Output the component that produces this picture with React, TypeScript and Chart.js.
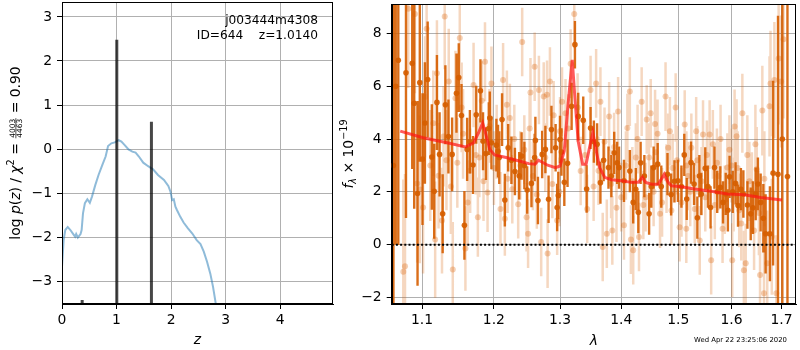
import React, { useEffect, useRef } from 'react';
import { Chart, registerables } from 'chart.js';

Chart.register(...registerables);

const FONT = '"DejaVu Sans", sans-serif';

// ---------- left panel: log p(z) ----------
const objName = 'j003444m4308';
const objId = 644;
const zBest = '1.0140';
const chi2Num = '4003';
const chi2Den = '4463';
const chi2Ratio = '0.90';

const zGrid = [0, 0.03, 0.06, 0.105, 0.154, 0.2, 0.24, 0.26, 0.29, 0.34, 0.36, 0.385, 0.42, 0.465, 0.51, 0.55, 0.61, 0.67, 0.74, 0.8, 0.845, 0.905, 0.967, 1.04, 1.09, 1.15, 1.22, 1.29, 1.35, 1.41, 1.49, 1.58, 1.67, 1.76, 1.87, 1.95, 1.99, 2.02, 2.05, 2.08, 2.11, 2.17, 2.23, 2.31, 2.39, 2.47, 2.54, 2.6, 2.66, 2.72, 2.77, 2.82, 2.85];
const logPz = [-2.67, -2.07, -1.84, -1.77, -1.84, -1.92, -1.99, -1.93, -2.01, -1.93, -1.84, -1.46, -1.23, -1.14, -1.22, -1.08, -0.82, -0.59, -0.36, -0.17, 0.07, 0.13, 0.15, 0.2, 0.17, 0.09, -0.01, -0.06, -0.08, -0.17, -0.31, -0.39, -0.46, -0.59, -0.7, -0.84, -0.97, -1.16, -1.14, -1.31, -1.39, -1.54, -1.67, -1.8, -1.92, -2.07, -2.16, -2.33, -2.56, -2.83, -3.13, -3.51, -3.9];

const peakZ = [0.37, 1.005, 1.64];
const peakLogP = [-3.43, 2.48, 0.62];

const zTicks = [0, 1, 2, 3, 4];
const logPTicks = [-3, -2, -1, 0, 1, 2, 3];

// ---------- right panel: spectrum ----------
const darkLam = [1.0625, 1.0655, 1.0688, 1.0788, 1.087, 1.0896, 1.094, 1.097, 1.1006, 1.1038, 1.1075, 1.1131, 1.1163, 1.12, 1.1236, 1.1278, 1.1315, 1.1357, 1.1408, 1.1468, 1.15, 1.1538, 1.1579, 1.1617, 1.1656, 1.17, 1.1746, 1.1806, 1.1843, 1.1885, 1.1926, 1.194, 1.1964, 1.2036, 1.206, 1.2078, 1.2119, 1.216, 1.2209, 1.2257, 1.2309, 1.2373, 1.2409, 1.2451, 1.2493, 1.2558, 1.2607, 1.2618, 1.2657, 1.2722, 1.2772, 1.2821, 1.2866, 1.2931, 1.2955, 1.2973, 1.3, 1.3023, 1.3068, 1.3119, 1.3184, 1.3237, 1.329, 1.3371, 1.3426, 1.349, 1.3544, 1.3597, 1.3652, 1.3705, 1.3786, 1.3834, 1.3882, 1.3931, 1.3963, 1.4047, 1.4147, 1.4205, 1.425, 1.4293, 1.4333, 1.4398, 1.4481, 1.452, 1.4561, 1.4632, 1.4696, 1.4807, 1.4872, 1.4933, 1.4995, 1.5059, 1.5111, 1.5156, 1.5235, 1.5291, 1.5352, 1.539, 1.5426, 1.55, 1.555, 1.56, 1.5674, 1.5726, 1.5785, 1.5837, 1.5889, 1.593, 1.5963, 1.6024, 1.6079, 1.6127, 1.6183, 1.6232, 1.6312, 1.6377, 1.642, 1.6476, 1.652, 1.6575, 1.6629, 1.6675, 1.6762, 1.6827, 1.6927, 1.7016, 1.7122];
const darkFlux = [3.0, 6.0, 6.99, 6.51, 6.87, 5.36, 1.94, 6.14, 3.24, 4.61, 6.26, 3.32, 2.02, 5.39, 3.42, 1.17, 5.3, 4.1, 3.42, 5.74, 6.33, 4.89, 0.73, 3.61, 3.9, 3.02, 4.92, 5.83, 3.92, 3.45, 4.4, 4.8, 3.86, 3.77, 3.54, 3.3, 4.74, 1.69, 3.67, 3.2, 2.77, 2.61, 3.36, 3.0, 2.07, 2.32, 3.3, 3.95, 1.67, 3.42, 3.61, 1.72, 4.36, 3.67, 1.41, 1.86, 3.98, 3.51, 2.36, 3.08, 5.24, 7.58, 4.86, 4.71, 2.11, 4.42, 3.9, 3.8, 2.35, 3.2, 2.92, 2.6, 3.48, 3.1, 2.92, 2.42, 2.79, 1.6, 2.1, 1.23, 3.1, 2.6, 1.17, 2.2, 2.92, 3.05, 2.2, 2.67, 1.9, 2.4, 2.42, 2.2, 3.4, 1.73, 3.11, 2.3, 1.02, 2.6, 1.92, 2.89, 2.2, 1.41, 2.92, 2.0, 2.17, 1.6, 1.92, 1.3, 2.57, 2.0, 2.32, 1.48, 2.1, 1.92, 1.5, 1.17, 1.4, 1.92, 2.3, 1.6, 1.0, 0.41, 0.41, 2.71, 2.67, 4.0, 2.58];
const darkErr = [9, 6, 7, 5.5, 4, 4, 3.5, 3, 2.5, 2.3, 2.2, 2.0, 1.8, 1.8, 1.6, 1.5, 1.5, 1.4, 1.4, 1.5, 1.3, 1.2, 1.3, 1.2, 1.2, 1.1, 1.1, 1.2, 1.1, 1.0, 1.0, 1.0, 1.0, 1.0, 1.0, 1.0, 1.0, 1.0, 0.9, 0.9, 0.9, 0.9, 0.9, 0.9, 0.9, 0.9, 0.9, 0.9, 0.9, 0.9, 0.9, 0.9, 0.9, 0.9, 0.9, 0.9, 0.9, 0.9, 0.9, 0.9, 0.9, 0.9, 0.9, 0.9, 0.9, 0.8, 0.8, 0.8, 0.8, 0.8, 0.8, 0.8, 0.8, 0.8, 0.8, 0.8, 0.8, 0.8, 0.8, 0.8, 0.8, 0.8, 0.8, 0.8, 0.8, 0.8, 0.8, 0.8, 0.8, 0.8, 0.8, 0.8, 0.8, 0.8, 0.8, 0.8, 0.8, 0.8, 0.8, 0.8, 0.8, 0.8, 0.8, 0.8, 0.8, 0.8, 0.8, 0.8, 0.8, 0.8, 0.8, 0.8, 0.8, 0.9, 0.9, 1.0, 1.0, 1.0, 1.0, 1.1, 1.3, 1.5, 1.8, 3.5, 6, 12, 10];

const lightLam = [1.0753, 1.0775, 1.0818, 1.0905, 1.0935, 1.097, 1.1014, 1.104, 1.1061, 1.111, 1.115, 1.1176, 1.12, 1.1222, 1.1269, 1.129, 1.1306, 1.133, 1.1361, 1.139, 1.1417, 1.1454, 1.148, 1.1514, 1.154, 1.156, 1.1593, 1.1625, 1.166, 1.1708, 1.174, 1.1769, 1.179, 1.1825, 1.185, 1.1871, 1.1908, 1.1935, 1.1964, 1.2, 1.204, 1.2096, 1.2134, 1.216, 1.219, 1.22, 1.2234, 1.227, 1.23, 1.2358, 1.239, 1.2418, 1.245, 1.2484, 1.2507, 1.253, 1.2543, 1.258, 1.2607, 1.264, 1.2672, 1.2707, 1.2746, 1.277, 1.2797, 1.2806, 1.2842, 1.288, 1.29, 1.2955, 1.299, 1.3, 1.3032, 1.3087, 1.313, 1.3168, 1.3226, 1.328, 1.3329, 1.34, 1.3435, 1.349, 1.354, 1.3581, 1.362, 1.3652, 1.369, 1.372, 1.3758, 1.3797, 1.383, 1.385, 1.388, 1.392, 1.3947, 1.4, 1.4047, 1.408, 1.4105, 1.4147, 1.4165, 1.419, 1.4205, 1.425, 1.428, 1.4305, 1.4351, 1.438, 1.442, 1.4439, 1.448, 1.4509, 1.456, 1.4586, 1.46, 1.463, 1.4674, 1.471, 1.4772, 1.479, 1.4819, 1.485, 1.4877, 1.49, 1.4954, 1.498, 1.5026, 1.506, 1.5119, 1.5148, 1.515, 1.518, 1.522, 1.5241, 1.5304, 1.533, 1.535, 1.5397, 1.543, 1.5458, 1.55, 1.553, 1.5582, 1.5611, 1.5643, 1.568, 1.572, 1.575, 1.579, 1.5828, 1.587, 1.592, 1.596, 1.6, 1.6014, 1.604, 1.606, 1.6099, 1.612, 1.615, 1.619, 1.6212, 1.6242, 1.6278, 1.631, 1.635, 1.64, 1.6444, 1.647, 1.6496, 1.654, 1.6563, 1.6609, 1.6643, 1.665, 1.6708, 1.6754, 1.6774, 1.68, 1.6853, 1.6893, 1.694, 1.6992, 1.704];
const lightFlux = [-1.03, -0.82, 8.94, 8.74, 2.32, 2.09, 1.41, 5.6, 8.18, 3.0, 4.6, 0.19, 6.5, 2.61, 0.91, 4.1, 8.65, 3.2, 6.18, 2.2, -0.94, 5.55, 3.1, 7.83, 5.2, 4.2, -0.15, 1.6, 2.8, 6.05, 3.4, 1.04, 3.3, 5.45, 2.4, 6.93, 1.98, 4.5, 6.11, 2.9, 3.9, 1.35, 6.24, 0.98, 5.3, 2.5, 4.8, 2.1, 4.0, 1.53, 3.0, 7.68, 3.6, 1.04, 0.41, 4.4, 5.77, 2.6, 6.74, 1.9, 5.86, 0.1, 5.61, 3.3, 5.68, -0.34, 6.18, 2.3, 4.9, 0.91, 2.0, 4.3, 5.42, 4.98, 4.4, 6.86, 8.74, 5.2, 2.79, 3.4, 1.35, 5.86, 2.2, 6.11, 2.8, 5.42, -0.09, 3.9, 0.41, 4.86, 2.3, 0.54, 3.7, 1.4, 5.05, 1.8, 0.73, 3.0, 4.42, 5.8, 0.19, 2.4, -0.21, 3.3, 4.0, 0.29, 5.42, 1.5, 1.8, 4.74, 3.3, 4.98, 2.0, 4.57, 3.5, 4.2, 1.17, 1.6, 5.61, 2.5, 3.67, 4.3, 1.29, 2.9, 5.2, 3.2, 0.66, 1.6, 4.55, 0.6, 3.0, 2.6, 2.0, 3.67, 1.35, 4.3, 3.2, 0.16, 2.4, 4.17, 1.8, 3.4, 4.17, -0.59, 3.8, 1.5, 3.1, 2.6, 4.0, 0.6, 1.7, 2.92, 3.6, 3.0, -0.59, 1.9, 4.48, 4.11, 2.9, 1.3, 0.8, 4.98, -0.97, -0.71, 3.4, 2.4, 2.0, 0.54, 3.8, 2.86, 1.2, -1.15, 5.08, -1.84, 2.5, -0.71, 5.24, 6.11, 0.3, 6.24, -1.84, 7.05, 6.18, 7.78];
const lightErr = [3.5, 3.5, 3, 3, 3, 2.8, 2.5, 2.3, 2.5, 2.1, 2.0, 2.2, 2.0, 2.0, 2.0, 1.9, 2.0, 1.9, 2.0, 1.8, 1.8, 1.8, 1.7, 1.8, 1.7, 1.7, 1.6, 1.6, 1.6, 1.6, 1.5, 1.5, 1.5, 1.5, 1.5, 1.5, 1.5, 1.4, 1.4, 1.4, 1.4, 1.4, 1.4, 1.4, 1.3, 1.3, 1.3, 1.3, 1.3, 1.3, 1.3, 1.3, 1.3, 1.3, 1.3, 1.3, 1.3, 1.3, 1.3, 1.3, 1.3, 1.3, 1.3, 1.3, 1.3, 1.3, 1.3, 1.3, 1.3, 1.3, 1.3, 1.3, 1.3, 1.3, 1.3, 1.3, 1.3, 1.3, 1.3, 1.3, 1.3, 1.3, 1.3, 1.3, 1.3, 1.3, 1.3, 1.3, 1.3, 1.3, 1.3, 1.3, 1.3, 1.3, 1.3, 1.3, 1.3, 1.3, 1.3, 1.3, 1.3, 1.3, 1.3, 1.3, 1.3, 1.3, 1.3, 1.3, 1.3, 1.3, 1.3, 1.3, 1.3, 1.3, 1.3, 1.3, 1.3, 1.3, 1.3, 1.3, 1.3, 1.3, 1.3, 1.3, 1.3, 1.3, 1.3, 1.3, 1.3, 1.3, 1.3, 1.3, 1.3, 1.3, 1.3, 1.3, 1.3, 1.3, 1.3, 1.3, 1.3, 1.3, 1.3, 1.3, 1.3, 1.3, 1.3, 1.3, 1.3, 1.3, 1.3, 1.3, 1.3, 1.4, 1.4, 1.4, 1.4, 1.4, 1.4, 1.4, 1.4, 1.5, 1.5, 1.5, 1.5, 1.5, 1.5, 1.5, 1.5, 1.6, 1.6, 1.6, 1.7, 1.8, 1.8, 2.0, 1.9, 2.0, 2.2, 2.2, 2.2, 2.5, 2.5, 3.0, 3.0, 3.5];

const modelLam = [1.0713, 1.1014, 1.1338, 1.1593, 1.1708, 1.1778, 1.1838, 1.1884, 1.194, 1.201, 1.2179, 1.2372, 1.2517, 1.2614, 1.2662, 1.271, 1.2807, 1.2928, 1.3, 1.3067, 1.3122, 1.3194, 1.3233, 1.3289, 1.3361, 1.3417, 1.3472, 1.3528, 1.3583, 1.3639, 1.3722, 1.3833, 1.4, 1.4175, 1.4292, 1.4363, 1.4421, 1.4526, 1.4643, 1.4749, 1.4819, 1.4877, 1.5056, 1.5302, 1.5611, 1.592, 1.6245, 1.6576, 1.7007];
const modelFlux = [4.3, 4.05, 3.86, 3.7, 3.86, 4.24, 4.61, 4.18, 3.61, 3.4, 3.3, 3.17, 3.07, 3.05, 3.2, 3.14, 3.01, 2.92, 2.98, 3.55, 5.18, 7.0, 5.68, 3.92, 3.05, 3.05, 3.67, 4.24, 3.55, 2.92, 2.55, 2.46, 2.42, 2.36, 2.36, 2.55, 2.36, 2.29, 2.29, 2.67, 2.36, 2.23, 2.19, 2.11, 2.02, 1.92, 1.89, 1.79, 1.69];

const lamTicks = [1.1, 1.2, 1.3, 1.4, 1.5, 1.6, 1.7];
const fluxTicks = [-2, 0, 2, 4, 6, 8];
const timestamp = 'Wed Apr 22 23:25:06 2020';

// ---------- helpers ----------
const fmtInt = (v: number) => (v < 0 ? '\u2212' : '') + Math.abs(Math.round(v));
const fmt1 = (v: number) => v.toFixed(1);

function errSegments(lam: number[], val: number[], err: number[]) {
  const out: any[] = [];
  lam.forEach((l, i) => {
    out.push({ x: l, y: val[i] - err[i] }, { x: l, y: val[i] + err[i] }, { x: l, y: null });
  });
  return out;
}

function makeScale(type: string, min: number, max: number, ticks: number[], fmt: (v: number) => string, pos: string, size: number) {
  return {
    type,
    min,
    max,
    bounds: 'data',
    position: pos,
    afterBuildTicks: (s: any) => {
      s.ticks = ticks.map((v) => ({ value: v }));
    },
    afterFit: (s: any) => {
      if (pos === 'bottom') s.height = size;
      else s.width = size;
      s.paddingLeft = 0;
      s.paddingRight = 0;
      s.paddingTop = 0;
      s.paddingBottom = 0;
    },
    grid: { color: '#b0b0b0', lineWidth: 1, tickLength: 5, tickColor: '#000', tickWidth: 1, drawTicks: true },
    border: { display: true, color: '#000', width: 1 },
    ticks: {
      color: '#000',
      font: { family: FONT, size: 13.9 },
      padding: pos === 'bottom' ? 3 : 5,
      maxRotation: 0,
      minRotation: 0,
      autoSkip: false,
      callback: (v: any) => fmt(Number(v)),
    },
  };
}

type Part = { text?: string; frac?: [string, string]; font: string; dy?: number; numY?: number; barY?: number; denY?: number };

function drawRotated(ctx: CanvasRenderingContext2D, x: number, y: number, parts: Part[]) {
  ctx.save();
  ctx.translate(x, y);
  ctx.rotate(-Math.PI / 2);
  ctx.fillStyle = '#000';
  ctx.textBaseline = 'alphabetic';
  ctx.textAlign = 'left';
  const widths = parts.map((p) => {
    ctx.font = p.font;
    if (p.frac) return Math.max(ctx.measureText(p.frac[0]).width, ctx.measureText(p.frac[1]).width) + 2;
    return ctx.measureText(p.text || '').width;
  });
  const total = widths.reduce((a, b) => a + b, 0);
  let cx = -total / 2;
  parts.forEach((p, i) => {
    ctx.font = p.font;
    const w = widths[i];
    if (p.frac) {
      ctx.textAlign = 'center';
      ctx.fillText(p.frac[0], cx + w / 2, p.numY || 0);
      ctx.fillText(p.frac[1], cx + w / 2, p.denY || 0);
      ctx.fillRect(cx + 0.5, (p.barY || 0) - 0.35, w - 1, 0.7);
      ctx.textAlign = 'left';
    } else {
      ctx.fillText(p.text || '', cx, p.dy || 0);
    }
    cx += w;
  });
  ctx.restore();
}

const framePlugin = {
  id: 'frame',
  afterDatasetsDraw(chart: any) {
    const { ctx, chartArea: a } = chart;
    ctx.save();
    ctx.strokeStyle = '#000';
    ctx.lineWidth = 1;
    const x0 = Math.round(a.left) + 0.5;
    const y0 = Math.round(a.top) + 0.5;
    const x1 = Math.round(a.right) - 0.5;
    const y1 = Math.round(a.bottom) - 0.5;
    ctx.strokeRect(x0, y0, x1 - x0, y1 - y0);
    ctx.restore();
  },
};

const leftTextPlugin = {
  id: 'leftText',
  afterDraw(chart: any) {
    const { ctx, chartArea: a } = chart;
    ctx.save();
    ctx.fillStyle = '#000';
    ctx.font = `12.2px ${FONT}`;
    ctx.textAlign = 'right';
    ctx.textBaseline = 'alphabetic';
    ctx.fillText(objName, a.right - 15, 23.5);
    ctx.fillText(`ID=${objId}    z=${zBest}`, a.right - 15, 38.5);
    ctx.font = `italic 13.9px ${FONT}`;
    ctx.textAlign = 'center';
    ctx.fillText('z', (a.left + a.right) / 2, 344);
    ctx.restore();
    const n = `13.9px ${FONT}`;
    const it = `italic 13.9px ${FONT}`;
    drawRotated(ctx, 19.5, (a.top + a.bottom) / 2, [
      { text: 'log ', font: n },
      { text: 'p', font: it },
      { text: '(', font: n },
      { text: 'z', font: it },
      { text: ') / ', font: n },
      { text: '\u03c7', font: it },
      { text: '2', font: `9.7px ${FONT}`, dy: -5.5 },
      { text: ' = ', font: n },
      { frac: [chi2Num, chi2Den], font: `7.5px ${FONT}`, numY: -5, barY: -3.6, denY: 2.4 },
      { text: ` = ${chi2Ratio}`, font: n },
    ]);
  },
};

const rightTextPlugin = {
  id: 'rightText',
  afterDraw(chart: any) {
    const { ctx, chartArea: a } = chart;
    ctx.save();
    ctx.fillStyle = '#000';
    ctx.font = `italic 13.9px ${FONT}`;
    ctx.textAlign = 'center';
    ctx.textBaseline = 'alphabetic';
    ctx.fillText('\u03bb', (a.left + a.right) / 2, 345);
    ctx.font = `6.9px ${FONT}`;
    ctx.textAlign = 'left';
    ctx.fillText(timestamp, 694, 342);
    ctx.restore();
    drawRotated(ctx, 353, (a.top + a.bottom) / 2, [
      { text: 'f', font: `italic 13.9px ${FONT}` },
      { text: '\u03bb', font: `italic 9.7px ${FONT}`, dy: 2.5 },
      { text: ' \u00d7 10', font: `13.9px ${FONT}` },
      { text: '\u221219', font: `9.7px ${FONT}`, dy: -6 },
    ]);
  },
};

export default function App() {
  const leftRef = useRef<HTMLCanvasElement>(null);
  const rightRef = useRef<HTMLCanvasElement>(null);

  useEffect(() => {
    const peakData: any[] = [];
    peakZ.forEach((z, i) => {
      peakData.push({ x: z, y: -5 }, { x: z, y: peakLogP[i] }, { x: z, y: null });
    });

    const left = new Chart(leftRef.current as HTMLCanvasElement, {
      type: 'line',
      data: {
        datasets: [
          {
            data: peakData as any,
            borderColor: 'rgba(0,0,0,0.72)',
            borderWidth: 3,
            borderCapStyle: 'butt',
            pointRadius: 0,
            spanGaps: false,
            order: 1,
          } as any,
          {
            data: zGrid.map((z, i) => ({ x: z, y: logPz[i] })) as any,
            borderColor: 'rgba(31,119,180,0.5)',
            borderWidth: 2,
            pointRadius: 0,
            tension: 0,
            order: 2,
          } as any,
        ],
      },
      options: {
        animation: false,
        responsive: false,
        events: [],
        layout: { padding: { left: 0, right: 467, top: 2, bottom: 0 } },
        plugins: { legend: { display: false }, tooltip: { enabled: false } },
        scales: {
          x: makeScale('linear', 0, 4.97, zTicks, fmtInt, 'bottom', 46) as any,
          y: makeScale('linear', -3.52, 3.34, logPTicks, fmtInt, 'left', 62) as any,
        },
      },
      plugins: [framePlugin, leftTextPlugin],
    });

    const right = new Chart(rightRef.current as HTMLCanvasElement, {
      type: 'line',
      data: {
        datasets: [
          {
            data: [{ x: 1.0603, y: 0 }, { x: 1.73, y: 0 }] as any,
            borderColor: '#000',
            borderWidth: 2,
            borderDash: [2, 2.2],
            pointRadius: 0,
            order: 1,
          } as any,
          {
            data: modelLam.map((l, i) => ({ x: l, y: modelFlux[i] })) as any,
            borderColor: 'rgba(255,20,20,0.7)',
            borderWidth: 3,
            pointRadius: 0,
            tension: 0,
            order: 2,
          } as any,
          {
            data: darkLam.map((l, i) => ({ x: l, y: darkFlux[i] })) as any,
            showLine: false,
            pointRadius: 2.8,
            pointBorderWidth: 0,
            pointBackgroundColor: 'rgba(214,94,0,0.92)',
            order: 3,
          } as any,
          {
            data: errSegments(darkLam, darkFlux, darkErr),
            borderColor: 'rgba(214,94,0,0.9)',
            borderWidth: 2.4,
            borderCapStyle: 'butt',
            pointRadius: 0,
            spanGaps: false,
            order: 4,
          } as any,
          {
            data: lightLam.map((l, i) => ({ x: l, y: lightFlux[i] })) as any,
            showLine: false,
            pointRadius: 3,
            pointBorderWidth: 0,
            pointBackgroundColor: 'rgba(217,95,2,0.3)',
            order: 5,
          } as any,
          {
            data: errSegments(lightLam, lightFlux, lightErr),
            borderColor: 'rgba(217,95,2,0.25)',
            borderWidth: 2.5,
            borderCapStyle: 'butt',
            pointRadius: 0,
            spanGaps: false,
            order: 6,
          } as any,
        ],
      },
      options: {
        animation: false,
        responsive: false,
        events: [],
        layout: { padding: { left: 329.7, right: 0.7, top: 2, bottom: 0 } },
        plugins: { legend: { display: false }, tooltip: { enabled: false } },
        scales: {
          x: makeScale('logarithmic', 1.0603, 1.73, lamTicks, fmt1, 'bottom', 46) as any,
          y: makeScale('linear', -2.25, 9.12, fluxTicks, fmtInt, 'left', 62) as any,
        },
      },
      plugins: [framePlugin, rightTextPlugin],
    });

    return () => {
      left.destroy();
      right.destroy();
    };
  }, []);

  const cs: React.CSSProperties = { position: 'absolute', left: 0, top: 0, width: 800, height: 350 };
  return (
    <div style={{ position: 'absolute', left: 0, top: 0, width: 800, height: 350, background: '#fff' }}>
      <canvas ref={rightRef} width={800} height={350} style={cs} />
      <canvas ref={leftRef} width={800} height={350} style={cs} />
    </div>
  );
}
